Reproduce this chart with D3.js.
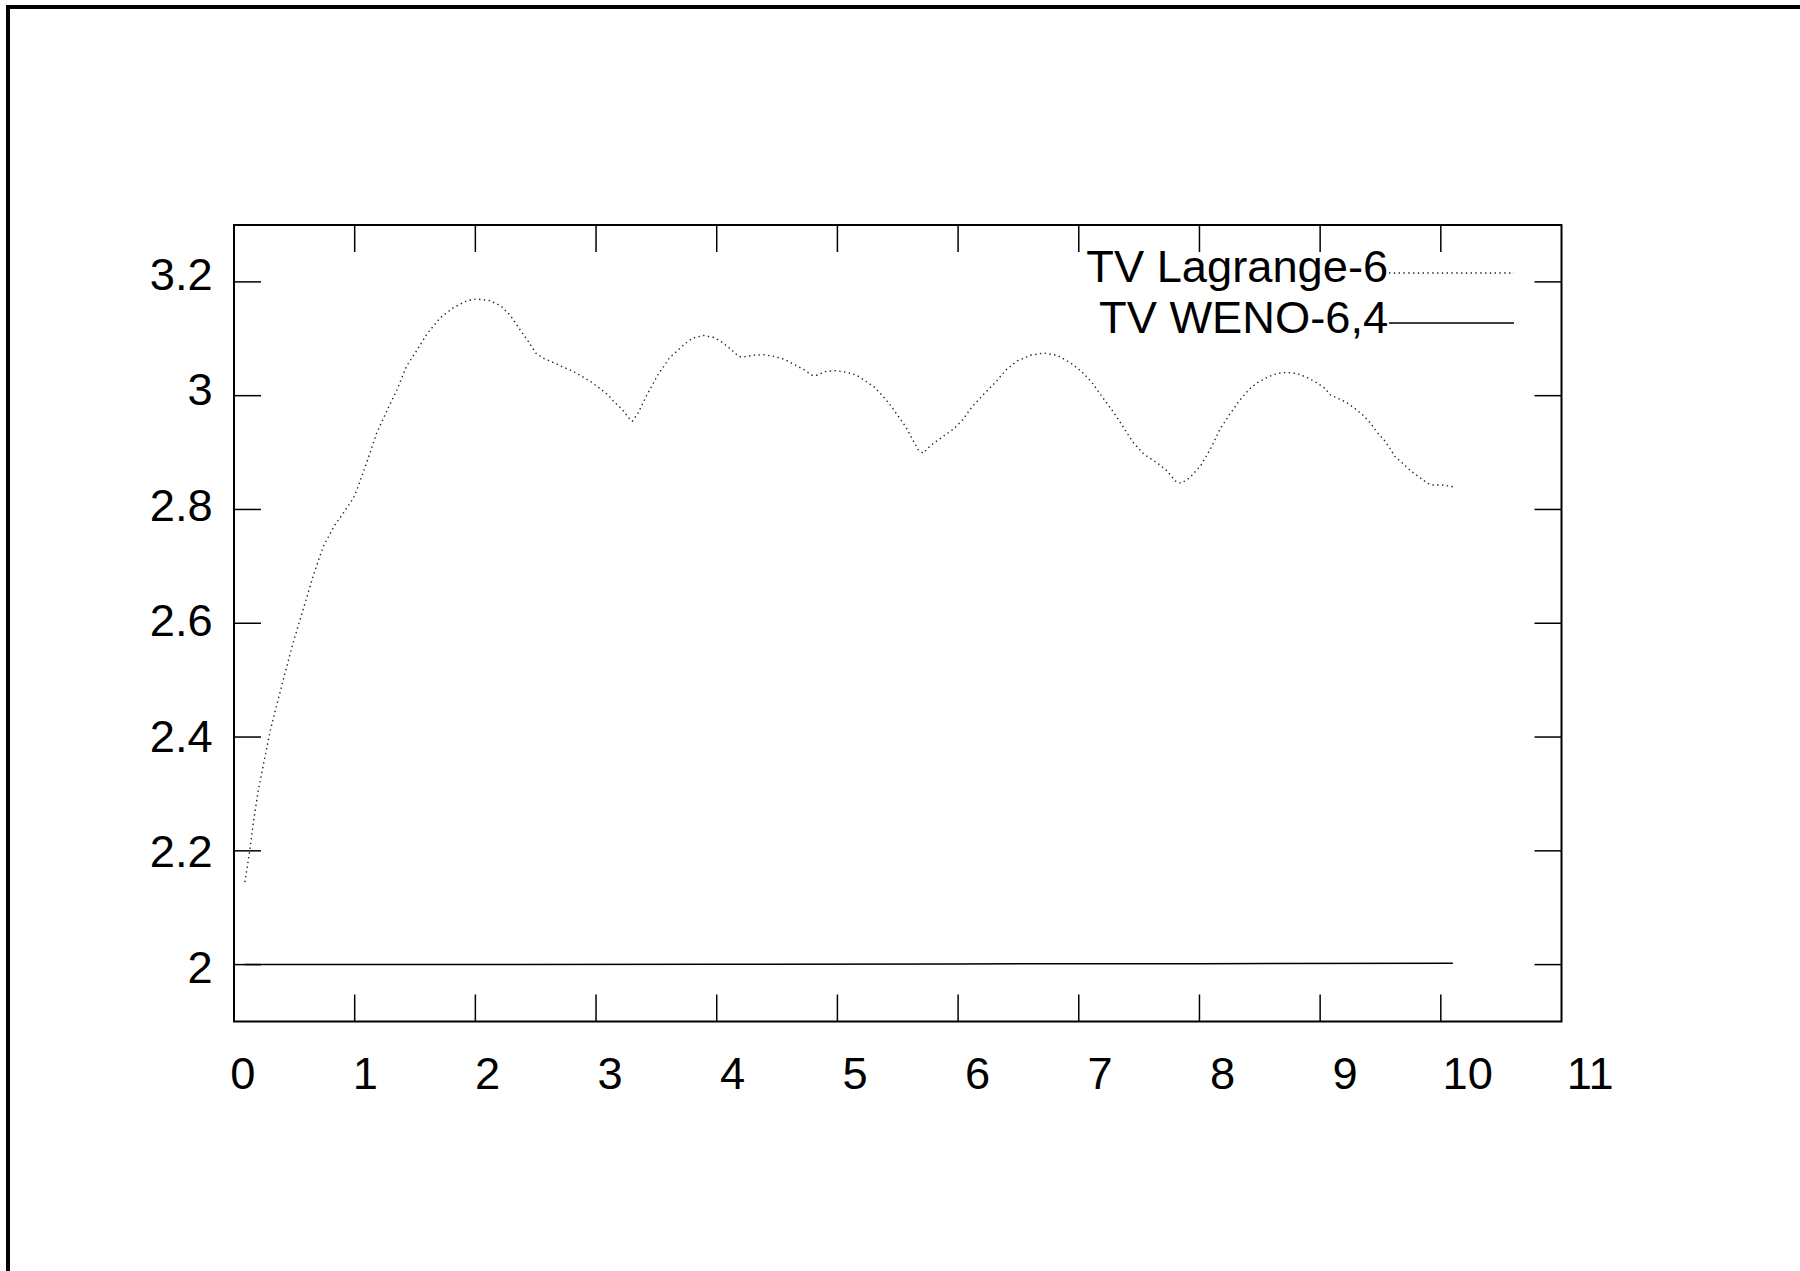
<!DOCTYPE html>
<html>
<head>
<meta charset="utf-8">
<script src="https://cdn.jsdelivr.net/npm/d3@7"></script>
<style>
  html, body { margin: 0; padding: 0; background: #fff; }
  svg { display: block; }
</style>
</head>
<body>
<div id="chart"></div>
<script>
// tick values
var xTicks = [0, 1, 2, 3, 4, 5, 6, 7, 8, 9, 10, 11];
var yTicks = [2, 2.2, 2.4, 2.6, 2.8, 3, 3.2];

// series names
var seriesNames = ["TV Lagrange-6", "TV WENO-6,4"];

// TV Lagrange-6 (dotted)
var lagT = [0.09,0.13,0.16,0.20,0.25,0.30,0.35,0.42,0.49,0.58,
  0.66,0.74,0.83,0.91,0.99,1.03,1.07,1.13,1.18,1.27,
  1.35,1.43,1.52,1.60,1.71,1.82,1.93,2.01,2.12,2.21,
  2.29,2.37,2.44,2.50,2.57,2.65,2.73,2.81,2.89,2.96,
  3.03,3.10,3.15,3.22,3.27,3.30,3.35,3.39,3.43,3.47,
  3.51,3.56,3.61,3.67,3.74,3.80,3.89,3.98,4.05,4.12,
  4.18,4.22,4.30,4.39,4.48,4.56,4.64,4.72,4.79,4.83,
  4.91,4.99,5.08,5.16,5.23,5.30,5.37,5.44,5.50,5.57,
  5.63,5.67,5.71,5.77,5.86,5.96,6.04,6.11,6.21,6.32,
  6.40,6.49,6.60,6.71,6.82,6.93,7.02,7.11,7.18,7.25,
  7.32,7.38,7.45,7.54,7.65,7.73,7.80,7.85,7.92,8.01,
  8.09,8.17,8.25,8.33,8.41,8.48,8.56,8.64,8.72,8.81,
  8.89,8.97,9.04,9.08,9.14,9.22,9.29,9.36,9.42,9.47,
  9.53,9.58,9.62,9.69,9.75,9.82,9.89,9.93,10.02,10.10];
var lagV = [2.145,2.200,2.249,2.305,2.358,2.411,2.453,2.510,2.566,2.629,
  2.686,2.735,2.771,2.795,2.820,2.841,2.865,2.901,2.933,2.975,
  3.010,3.052,3.081,3.109,3.137,3.155,3.167,3.170,3.167,3.158,
  3.141,3.116,3.095,3.075,3.065,3.058,3.050,3.043,3.033,3.024,
  3.013,3.001,2.989,2.975,2.961,2.955,2.970,2.988,3.005,3.020,
  3.036,3.051,3.067,3.078,3.092,3.101,3.106,3.102,3.093,3.081,
  3.069,3.068,3.071,3.072,3.069,3.064,3.055,3.046,3.036,3.036,
  3.043,3.044,3.041,3.036,3.026,3.016,3.001,2.983,2.965,2.944,
  2.920,2.905,2.899,2.912,2.926,2.941,2.958,2.979,3.002,3.026,
  3.046,3.061,3.071,3.075,3.071,3.058,3.043,3.023,3.002,2.982,
  2.961,2.941,2.918,2.897,2.882,2.868,2.850,2.846,2.856,2.877,
  2.906,2.941,2.967,2.991,3.011,3.023,3.032,3.039,3.041,3.039,
  3.032,3.023,3.013,3.002,2.996,2.988,2.977,2.965,2.951,2.936,
  2.922,2.907,2.893,2.880,2.868,2.857,2.846,2.843,2.843,2.840];

// TV WENO-6,4 (solid), almost flat at 2
var wenoT = [0.09, 2, 4, 6, 8, 10.10];
var wenoV = [2.0000, 2.0003, 2.0007, 2.0012, 2.0017, 2.0023];

function buildchart(){
    var W = 1800, H = 1271;
    var margin = {top: 225, bottom: 249.5, left: 234, right: 238.5};
    var width = W - margin.left - margin.right;
    var height = H - margin.top - margin.bottom;
    var tickLen = 27;
    var font = "'Liberation Sans', Arial, Helvetica, sans-serif";

    var x = d3.scaleLinear().domain([0, 11]).range([margin.left, margin.left + width]);
    var y = d3.scaleLinear().domain([1.9, 3.3]).range([margin.top + height, margin.top]);

    var svg = d3.select("#chart")
            .append("svg")
            .attr("width", W)
            .attr("height", H);

    // page border (only left and top show inside the picture)
    svg.append("rect")
        .attr("x", 8).attr("y", 7)
        .attr("width", W + 20).attr("height", H + 20)
        .attr("fill", "none")
        .attr("stroke", "#000")
        .attr("stroke-width", 4);

    var g = svg.append("g");

    // ticks, mirrored on all sides, pointing inward
    g.selectAll(".xtick-b").data(xTicks.slice(1, -1)).enter()
        .append("line")
        .attr("x1", d => x(d)).attr("x2", d => x(d))
        .attr("y1", y(1.9)).attr("y2", y(1.9) - tickLen)
        .attr("stroke", "#000").attr("stroke-width", 1.5);
    g.selectAll(".xtick-t").data(xTicks.slice(1, -1)).enter()
        .append("line")
        .attr("x1", d => x(d)).attr("x2", d => x(d))
        .attr("y1", y(3.3)).attr("y2", y(3.3) + tickLen)
        .attr("stroke", "#000").attr("stroke-width", 1.5);
    g.selectAll(".ytick-l").data(yTicks).enter()
        .append("line")
        .attr("x1", x(0)).attr("x2", x(0) + tickLen)
        .attr("y1", d => y(d)).attr("y2", d => y(d))
        .attr("stroke", "#000").attr("stroke-width", 1.5);
    g.selectAll(".ytick-r").data(yTicks).enter()
        .append("line")
        .attr("x1", x(11)).attr("x2", x(11) - tickLen)
        .attr("y1", d => y(d)).attr("y2", d => y(d))
        .attr("stroke", "#000").attr("stroke-width", 1.5);

    var line = d3.line()
        .x(d => x(d[0]))
        .y(d => y(d[1]));

    var lagData = lagT.map((t, i) => [t, lagV[i]]);
    var wenoData = wenoT.map((t, i) => [t, wenoV[i]]);

    g.append("path")
        .datum(wenoData)
        .attr("d", line)
        .attr("fill", "none")
        .attr("stroke", "#000")
        .attr("stroke-width", 1.5);

    g.append("path")
        .datum(lagData)
        .attr("d", line)
        .attr("fill", "none")
        .attr("stroke", "#222")
        .attr("stroke-width", 1.4)
        .attr("stroke-dasharray", "1.4,3.4");

    // frame
    g.append("rect")
        .attr("x", x(0)).attr("y", y(3.3))
        .attr("width", x(11) - x(0)).attr("height", y(1.9) - y(3.3))
        .attr("fill", "none")
        .attr("stroke", "#000")
        .attr("stroke-width", 2);

    // legend samples
    var keyY = [273, 323];
    var keyX1 = 1389, keyX2 = 1514;
    g.append("line")
        .attr("x1", keyX1).attr("x2", keyX2)
        .attr("y1", keyY[0]).attr("y2", keyY[0])
        .attr("stroke", "#222").attr("stroke-width", 1.4)
        .attr("stroke-dasharray", "1.4,3.4");
    g.append("line")
        .attr("x1", keyX1).attr("x2", keyX2)
        .attr("y1", keyY[1]).attr("y2", keyY[1])
        .attr("stroke", "#000").attr("stroke-width", 1.5);

    // all text sits in a slightly enlarged layer, as in the original
    var k = 1.015;
    var txt = svg.append("g")
        .attr("transform", "translate(3.7,3.7) scale(" + k + ")")
        .attr("font-family", font)
        .attr("font-size", 44.6)
        .attr("fill", "#000");

    txt.selectAll(".xlab").data(xTicks).enter()
        .append("text")
        .attr("x", d => x(d) + 1.5)
        .attr("y", y(1.9) + 47.6)
        .attr("text-anchor", "middle")
        .text(d => d);

    txt.selectAll(".ylab").data(yTicks).enter()
        .append("text")
        .attr("x", x(0) - 28)
        .attr("y", d => y(d))
        .attr("text-anchor", "end")
        .text(d => d3.format("")(d));

    txt.selectAll(".key").data(seriesNames).enter()
        .append("text")
        .attr("x", 1364)
        .attr("y", (d, i) => keyY[i] + 1)
        .attr("text-anchor", "end")
        .text(d => d);
}

buildchart();
</script>
</body>
</html>
